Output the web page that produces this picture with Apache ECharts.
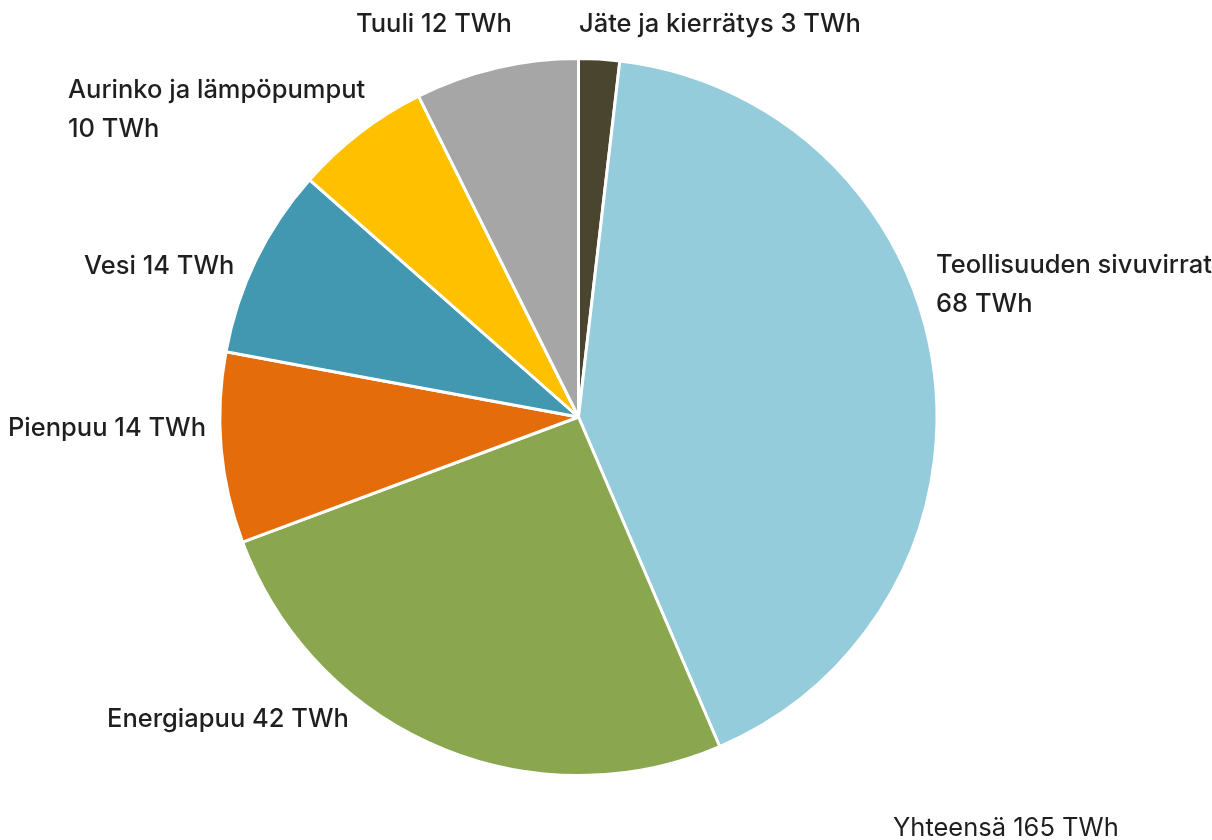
<!DOCTYPE html>
<html><head><meta charset="utf-8">
<script src="https://cdn.jsdelivr.net/npm/echarts@6/dist/echarts.min.js"></script>
<style>html,body{margin:0;padding:0;background:#fff}#c{width:1212px;height:840px}</style>
</head><body><div id="c"></div>
<script>
const categories = ['Jäte ja kierrätys', 'Teollisuuden sivuvirrat', 'Energiapuu', 'Pienpuu', 'Vesi', 'Aurinko ja lämpöpumput', 'Tuuli'];
const values = [3, 68, 42, 14, 14, 10, 12];
const labelTexts = ['Jäte ja kierrätys 3 TWh', 'Teollisuuden sivuvirrat\n68 TWh', 'Energiapuu 42 TWh', 'Pienpuu 14 TWh', 'Vesi 14 TWh', 'Aurinko ja lämpöpumput\n10 TWh', 'Tuuli 12 TWh'];
const totalText = 'Yhteensä 165 TWh';
const colors = ['#4a452f', '#95ccdc', '#8aa64f', '#e46c0a', '#4298b0', '#ffc000', '#a6a6a6'];
const labelPos = [[579, 24, 'left'], [936, 285, 'left'], [107, 719, 'left'], [8, 428, 'left'], [84, 266, 'left'], [68, 110, 'left'], [356, 24, 'left']];

const chart = echarts.init(document.getElementById('c'), null, {renderer: 'canvas'});
chart.setOption({
  animation: false,
  backgroundColor: '#fff',
  graphic: [{type: 'text', x: 893, y: 828, style: {text: totalText, font: '400 25.5px Inter', fill: '#1f1f1f', verticalAlign: 'middle'}}],
  series: [{
    type: 'pie',
    center: [578.5, 417],
    radius: [0, 358.5],
    startAngle: 90,
    clockwise: true,
    silent: true,
    itemStyle: {borderColor: '#fff', borderWidth: 3},
    label: {show: true, position: 'outside', color: '#1f1f1f', fontFamily: 'Inter', fontWeight: 500, fontSize: 25.5, lineHeight: 39,
      overflow: 'none', width: 400,
      formatter: p => labelTexts[p.dataIndex]},
    labelLine: {show: false},
    labelLayout: p => ({x: labelPos[p.dataIndex][0], y: labelPos[p.dataIndex][1], align: labelPos[p.dataIndex][2], verticalAlign: 'middle'}),
    data: categories.map((c, i) => ({name: c, value: values[i], itemStyle: {color: colors[i]}}))
  }]
});
</script></body></html>
